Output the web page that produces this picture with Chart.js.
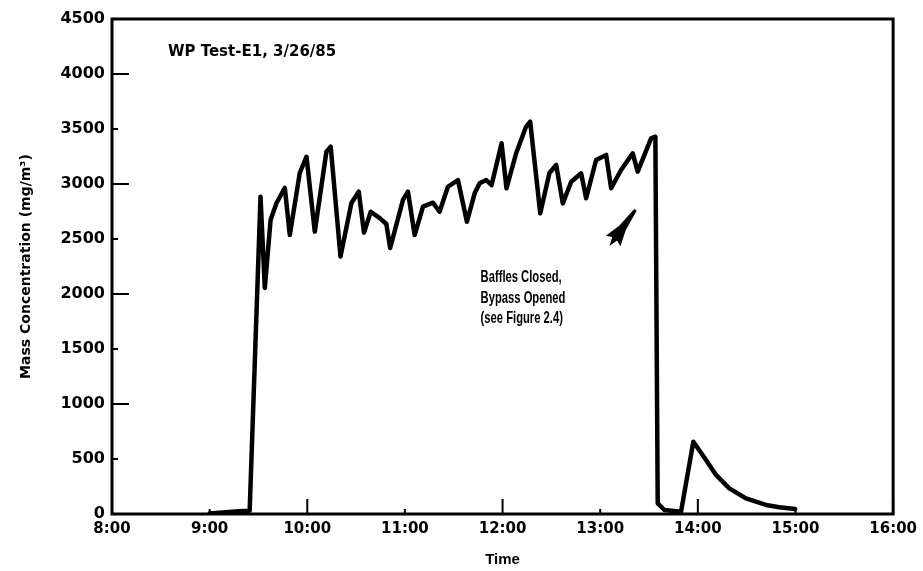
<!DOCTYPE html>
<html>
<head>
<meta charset="utf-8">
<script src="https://cdn.jsdelivr.net/npm/chart.js@4.4.1/dist/chart.umd.min.js"></script>
<style>
  html, body { margin: 0; padding: 0; background: #fff; }
  #wrap { width: 923px; height: 571px; }
</style>
</head>
<body>
<div id="wrap"><canvas id="chart" width="923" height="571"></canvas></div>
<script>
// time of day in decimal hours
const times = [
    9.00, 9.30, 9.41, 9.521, 9.565, 9.624, 9.685, 9.770, 9.821, 9.923,
    9.992, 10.077, 10.196, 10.240, 10.340, 10.452, 10.527, 10.581, 10.650, 10.742,
    10.810, 10.849, 10.980, 11.031, 11.100, 11.185, 11.287, 11.355, 11.440, 11.543,
    11.635, 11.714, 11.765, 11.833, 11.888, 11.990, 12.040, 12.140, 12.240, 12.283,
    12.386, 12.480, 12.549, 12.617, 12.703, 12.805, 12.856, 12.958, 13.061, 13.112,
    13.214, 13.333, 13.384, 13.521, 13.565, 13.589, 13.657, 13.828, 13.954, 14.084,
    14.186, 14.322, 14.493, 14.698, 14.834, 14.997
]
// mass concentration, mg/m3
const concentration = [
    5, 25, 30, 2885, 2055, 2672, 2827, 2964, 2536, 3100,
    3248, 2567, 3294, 3339, 2340, 2827, 2930, 2558, 2748, 2690,
    2636, 2418, 2855, 2930, 2536, 2794, 2830, 2748, 2975, 3036,
    2657, 2915, 3006, 3036, 2990, 3370, 2961, 3282, 3520, 3567,
    2733, 3100, 3173, 2824, 3021, 3097, 2870, 3218, 3264, 2961,
    3127, 3279, 3112, 3415, 3430, 97, 36, 21, 657, 491,
    355, 233, 142, 82, 61, 45
]

const hourTicks = [8, 9, 10, 11, 12, 13, 14, 15, 16]
const concTicks = [0, 500, 1000, 1500, 2000, 2500, 3000, 3500, 4000, 4500]

const titleText = 'WP Test-E1, 3/26/85'
const titleAt = [8.573, 4200]
const noteLines = ['Baffles Closed,', 'Bypass Opened', '(see Figure 2.4)']
const noteAt = [11.775, 2155, 1964, 1782]
const arrowTip = [13.361, 2764]
const arrowTail = [13.095, 2436]

const points = times.map((t, i) => ({ x: t, y: concentration[i] }))

// frame, inward tick marks and the text notes
const decorations = {
    id: 'decorations',
    afterDatasetsDraw(chart) {
        const ctx = chart.ctx
        const area = chart.chartArea
        const xs = chart.scales.x
        const ys = chart.scales.y
        ctx.save()
        ctx.strokeStyle = '#000'
        ctx.lineWidth = 3
        ctx.strokeRect(area.left, area.top, area.right - area.left, area.bottom - area.top)

        ctx.lineWidth = 2
        ctx.beginPath()
        concTicks.forEach(v => {
            const py = ys.getPixelForValue(v)
            const len = v % 1000 === 0 ? 17 : 6
            ctx.moveTo(area.left, py)
            ctx.lineTo(area.left + len, py)
        })
        hourTicks.forEach(h => {
            const px = xs.getPixelForValue(h)
            const len = h % 2 === 0 ? 15 : 5
            ctx.moveTo(px, area.bottom)
            ctx.lineTo(px, area.bottom - len)
        })
        ctx.stroke()

        ctx.fillStyle = '#000'
        ctx.textBaseline = 'middle'
        ctx.textAlign = 'left'
        ctx.font = 'bold 15px "DejaVu Sans"'
        ctx.fillText(titleText, xs.getPixelForValue(titleAt[0]), ys.getPixelForValue(titleAt[1]))

        // condensed heavy lettering for the note
        ctx.font = 'bold 17px "Liberation Sans"'
        const nx = xs.getPixelForValue(noteAt[0])
        noteLines.forEach((line, i) => {
            const ny = ys.getPixelForValue(noteAt[i + 1])
            ctx.save()
            ctx.translate(nx, ny)
            ctx.scale(0.66, 1)
            ctx.fillText(line, 0, 0)
            ctx.restore()
        })

        // arrow pointing at the curve
        const tx = xs.getPixelForValue(arrowTip[0]), ty = ys.getPixelForValue(arrowTip[1])
        const bx = xs.getPixelForValue(arrowTail[0]), by = ys.getPixelForValue(arrowTail[1])
        const L = Math.hypot(bx - tx, by - ty)
        const ux = (bx - tx) / L, uy = (by - ty) / L
        const nxv = -uy, nyv = ux
        const p = (a, b) => [tx + ux * L * a + nxv * b, ty + uy * L * a + nyv * b]
        const shape = [p(0, 1.5), p(0.5, 4), p(0.86, 9), p(0.8, 3), p(1, 0), p(0.8, -3), p(0.86, -9), p(0.5, -4), p(0, -1.5)]
        ctx.beginPath()
        shape.forEach((q, i) => i ? ctx.lineTo(q[0], q[1]) : ctx.moveTo(q[0], q[1]))
        ctx.closePath()
        ctx.fill()
        ctx.restore()
    }
}

const ctx = document.getElementById('chart').getContext('2d')
new Chart(ctx, {
    type: 'line',
    data: {
        datasets: [{
            data: points,
            borderColor: '#000',
            borderWidth: 4.5,
            borderJoinStyle: 'round',
            borderCapStyle: 'round',
            pointRadius: 0,
            tension: 0,
            fill: false
        }]
    },
    options: {
        responsive: false,
        animation: false,
        layout: { padding: { top: 19, right: 29, left: 0, bottom: 0 } },
        plugins: {
            legend: { display: false },
            tooltip: { enabled: false }
        },
        scales: {
            x: {
                type: 'linear',
                min: 8,
                max: 16,
                afterBuildTicks: scale => { scale.ticks = hourTicks.map(v => ({ value: v })) },
                afterFit: scale => { scale.height = 57 },
                grid: { display: false, drawTicks: false },
                border: { display: false },
                ticks: {
                    padding: 6,
                    color: '#000',
                    font: { family: 'DejaVu Sans', size: 15, weight: 'bold' },
                    callback: v => v + ':00'
                },
                title: {
                    display: true,
                    text: 'Time',
                    color: '#000',
                    font: { family: 'Liberation Sans', size: 15, weight: 'bold' },
                    padding: { top: 0, bottom: 2 }
                }
            },
            y: {
                min: 0,
                max: 4500,
                afterBuildTicks: scale => { scale.ticks = concTicks.map(v => ({ value: v })) },
                afterFit: scale => { scale.width = 112 },
                grid: { display: false, drawTicks: false },
                border: { display: false },
                ticks: {
                    padding: 7,
                    color: '#000',
                    font: { family: 'DejaVu Sans', size: 16, weight: 'bold' },
                    callback: v => String(v)
                },
                title: {
                    display: true,
                    text: 'Mass Concentration (mg/m³)',
                    color: '#000',
                    font: { family: 'DejaVu Sans', size: 14, weight: 'bold' },
                    padding: { top: 18, bottom: 0 }
                }
            }
        }
    },
    plugins: [decorations]
});
</script>
</body>
</html>
